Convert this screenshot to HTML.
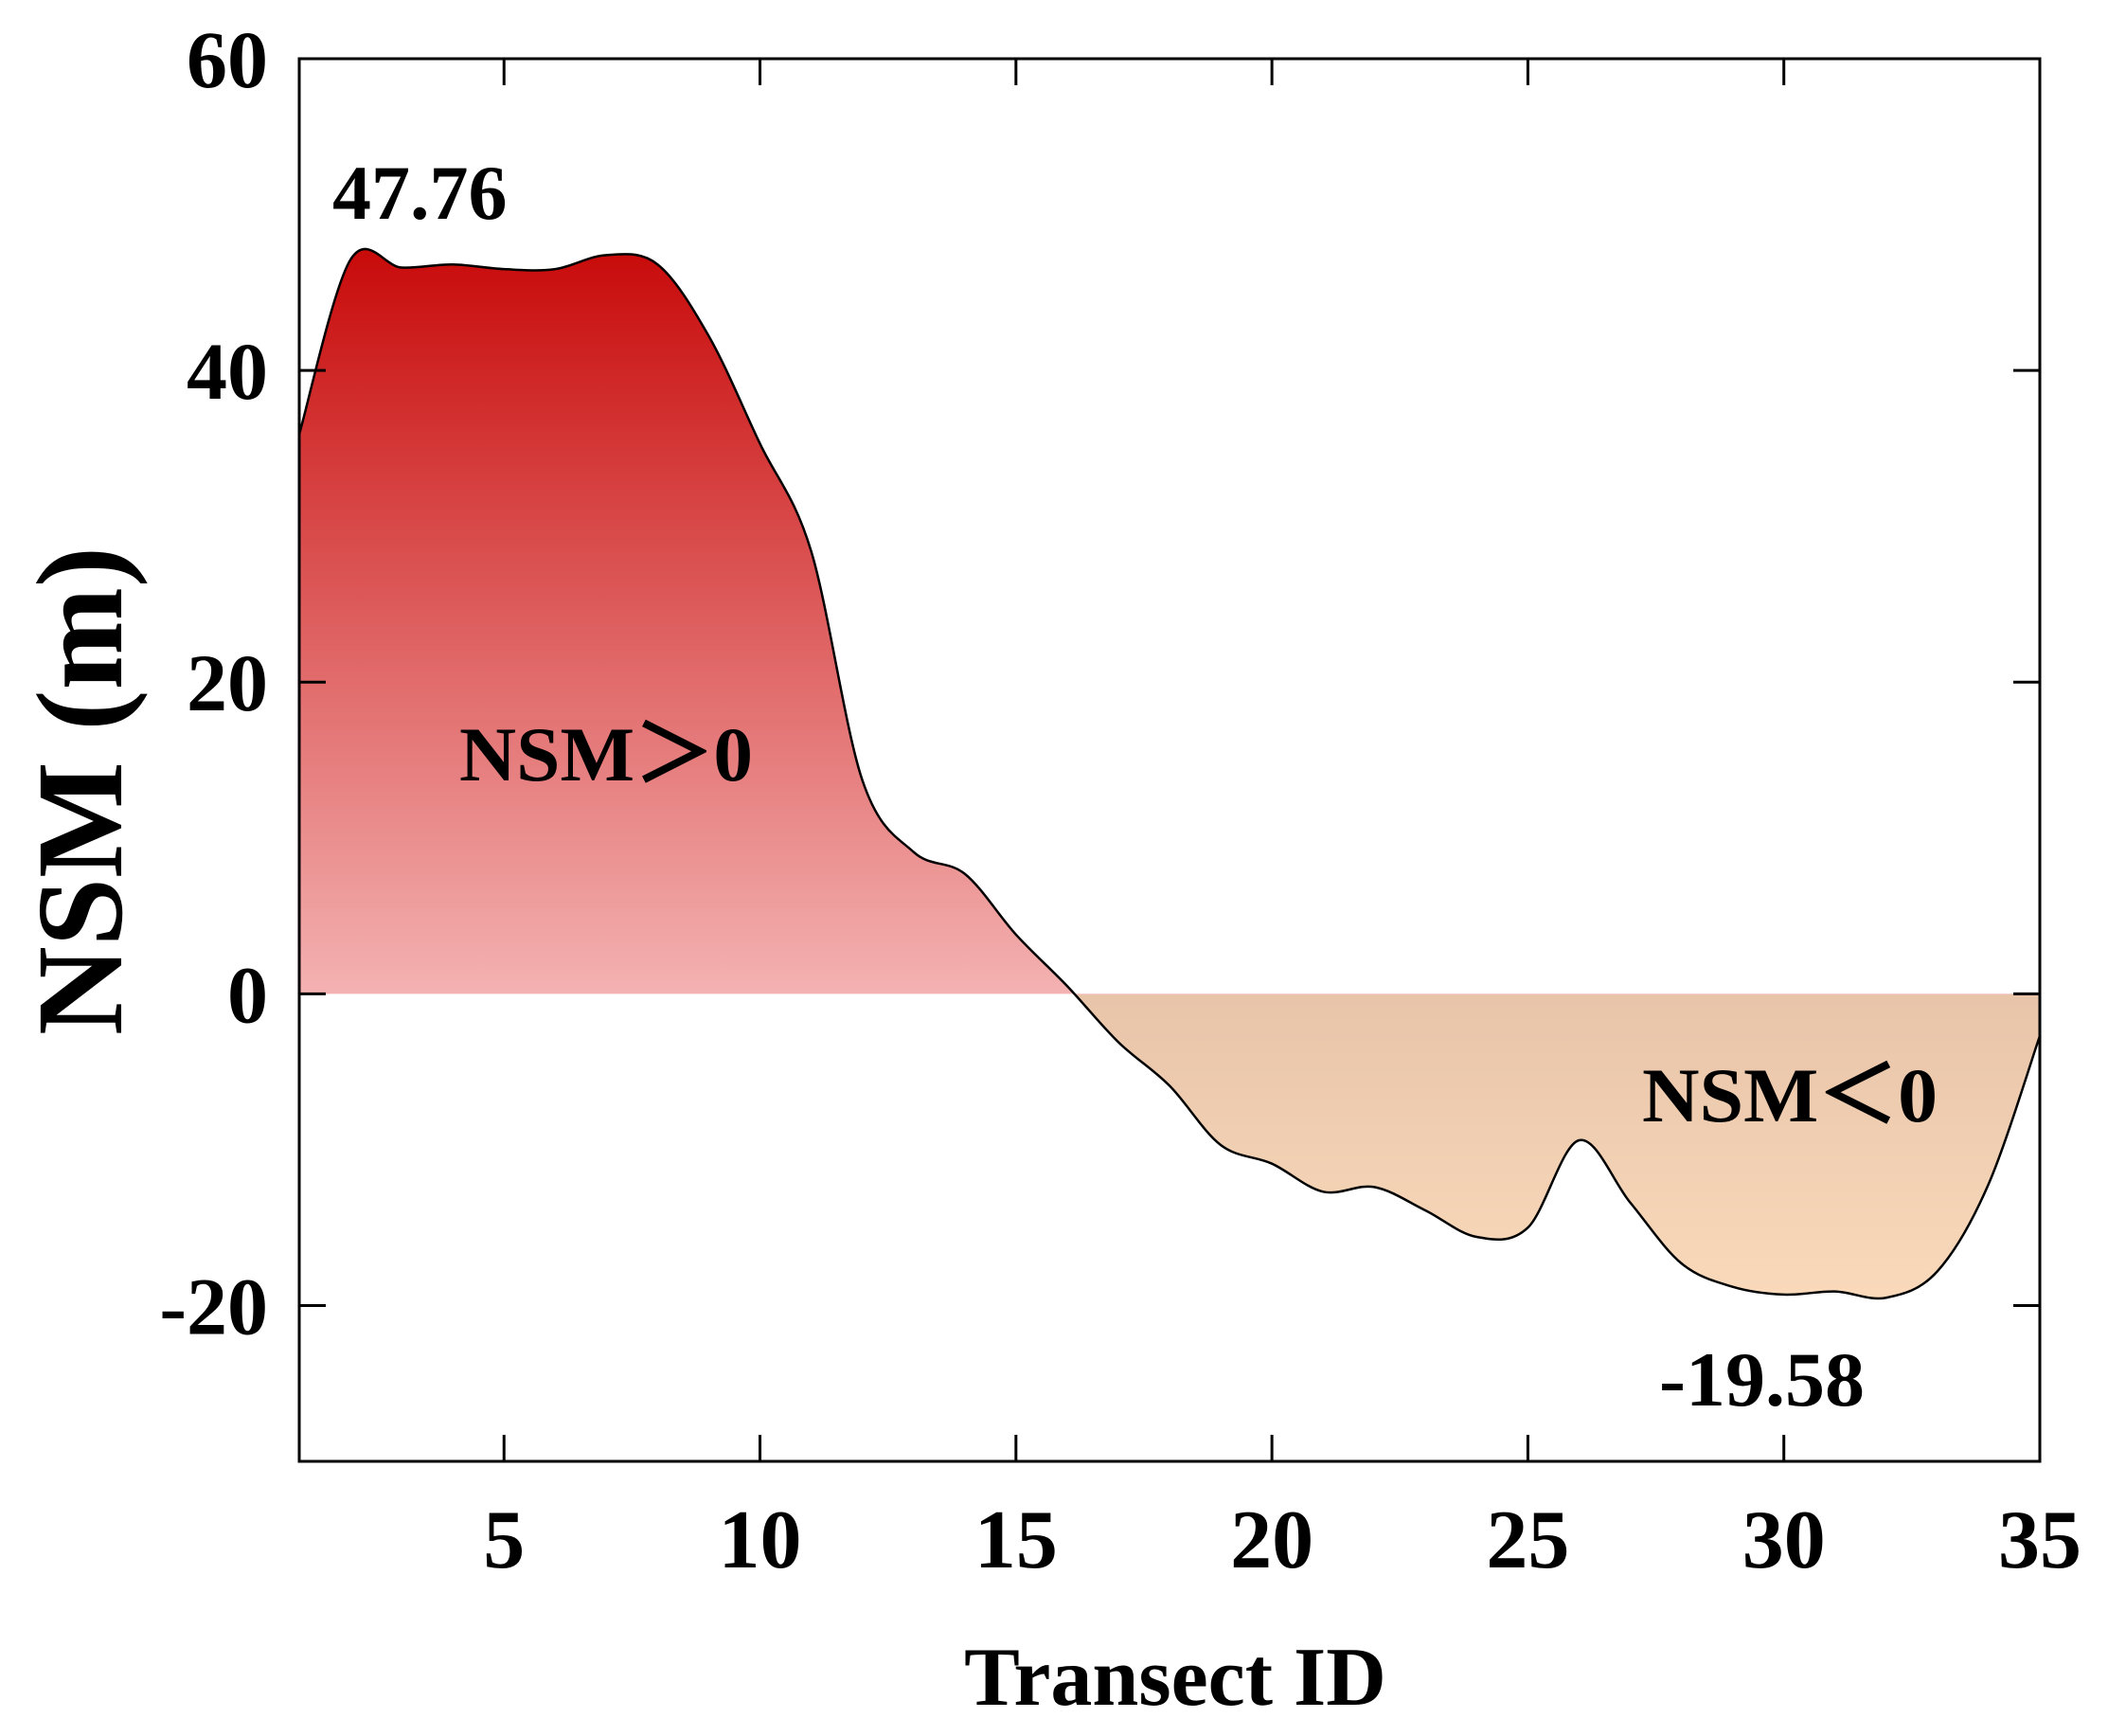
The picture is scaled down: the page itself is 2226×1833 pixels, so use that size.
<!DOCTYPE html>
<html><head><meta charset="utf-8"><style>
html,body{margin:0;padding:0;background:#fff;}
svg{display:block;font-family:"Liberation Serif","Times New Roman",serif;font-weight:bold;}
</style></head><body>
<svg id="chart" width="2226" height="1833" viewBox="0 0 2226 1833" xmlns="http://www.w3.org/2000/svg">
<defs>
<linearGradient id="gPos" gradientUnits="userSpaceOnUse" x1="0" y1="262" x2="0" y2="1050">
<stop offset="0" stop-color="#c80a0a"/><stop offset="1" stop-color="#f4b2b2"/></linearGradient>
<linearGradient id="gNeg" gradientUnits="userSpaceOnUse" x1="0" y1="1050" x2="0" y2="1380">
<stop offset="0" stop-color="#e8c4a9"/><stop offset="1" stop-color="#fadabb"/></linearGradient>
<clipPath id="cPos"><rect x="316" y="62" width="1838" height="988"/></clipPath>
<clipPath id="cNeg"><rect x="316" y="1050" width="1838" height="493"/></clipPath>
</defs>
<g id="plot"></g>
<rect x="316" y="62" width="1838" height="1481" fill="none" stroke="#000" stroke-width="3"/>
<g id="axes"></g>
<text x="351" y="231" font-size="82">47.76</text>
<text x="485" y="824" font-size="82" textLength="310" lengthAdjust="spacingAndGlyphs">NSM＞0</text>
<text x="1734" y="1184" font-size="82" textLength="312" lengthAdjust="spacingAndGlyphs">NSM＜0</text>
<text x="1752" y="1484" font-size="82" textLength="217" lengthAdjust="spacingAndGlyphs">-19.58</text>
<text x="1241" y="1800" font-size="88" text-anchor="middle">Transect ID</text>
<text transform="translate(128,835) rotate(-90)" font-size="130" text-anchor="middle">NSM (m)</text>
</svg>
<script>
const transects = [1,2,3,4,5,6,7,8,9,10,11,12,13,14,15,16,17,18,19,20,21,22,23,24,25,26,27,28,29,30,31,32,33,34,35];
const nsmValues = [35.9,47.1,46.6,46.8,46.5,46.5,47.4,46.8,42.2,35.3,28.4,13.7,9.1,7.7,3.8,0.5,-3.1,-5.9,-9.7,-10.9,-12.7,-12.4,-13.9,-15.6,-15.0,-9.4,-13.4,-17.3,-18.8,-19.3,-19.1,-19.5,-17.8,-12.2,-2.7];
const xTicks = [5,10,15,20,25,30,35];
const yTicks = [-20,0,20,40,60];
const yTickLabels = ["-20","0","20","40","60"];

const X0=316,X1=2154,Y0=62,Y1=1543, xMin=1,xMax=35,yMin=-30,yMax=60;
const sx=v=>X0+(v-xMin)/(xMax-xMin)*(X1-X0);
const sy=v=>Y0+(yMax-v)/(yMax-yMin)*(Y1-Y0);
const NS='http://www.w3.org/2000/svg';
const pts=transects.map((t,i)=>[sx(t),sy(nsmValues[i])]);
let d='M'+pts[0][0]+','+pts[0][1];
for(let i=0;i<pts.length-1;i++){
  const p0=pts[Math.max(0,i-1)],p1=pts[i],p2=pts[i+1],p3=pts[Math.min(pts.length-1,i+2)];
  const c1=[p1[0]+(p2[0]-p0[0])/6,p1[1]+(p2[1]-p0[1])/6];
  const c2=[p2[0]-(p3[0]-p1[0])/6,p2[1]-(p3[1]-p1[1])/6];
  d+=' C'+c1.join(',')+' '+c2.join(',')+' '+p2.join(',');
}
const y0=sy(0);
const area=d+' L'+sx(xMax)+','+y0+' L'+sx(xMin)+','+y0+' Z';
const plot=document.getElementById('plot');
function mk(tag,attrs){const e=document.createElementNS(NS,tag);for(const k in attrs)e.setAttribute(k,attrs[k]);return e;}
const ap=mk('path',{d:area,fill:'url(#gPos)','clip-path':'url(#cPos)'});


plot.appendChild(ap);
const an=mk('path',{d:area,fill:'url(#gNeg)','clip-path':'url(#cNeg)'});


plot.appendChild(an);
const ln=mk('path',{d:d,fill:'none',stroke:'#000','stroke-width':2.5});


plot.appendChild(ln);
const axes=document.getElementById('axes');
const T=28;
xTicks.forEach(v=>{
  const x=sx(v);
  const t1=mk('line',{x1:x,x2:x,y1:Y1,y2:Y1-T,stroke:'#000','stroke-width':3});
  
  
  axes.appendChild(t1);
  const t2=mk('line',{x1:x,x2:x,y1:Y0,y2:Y0+T,stroke:'#000','stroke-width':3});
  
  
  axes.appendChild(t2);
  const lb=mk('text',{x:x,y:1655,'font-size':88,'text-anchor':'middle'});
  lb.textContent=String(v);
  
  
  axes.appendChild(lb);
});
yTicks.forEach((v,i)=>{
  const y=sy(v);
  const t1=mk('line',{x1:X0,x2:X0+T,y1:y,y2:y,stroke:'#000','stroke-width':3});
  
  
  axes.appendChild(t1);
  const t2=mk('line',{x1:X1,x2:X1-T,y1:y,y2:y,stroke:'#000','stroke-width':3});
  
  
  axes.appendChild(t2);
  const lb=mk('text',{x:283,y:y+30,'font-size':86,'text-anchor':'end'});
  lb.textContent=yTickLabels[i];
  
  
  axes.appendChild(lb);
});
</script>
</body></html>
